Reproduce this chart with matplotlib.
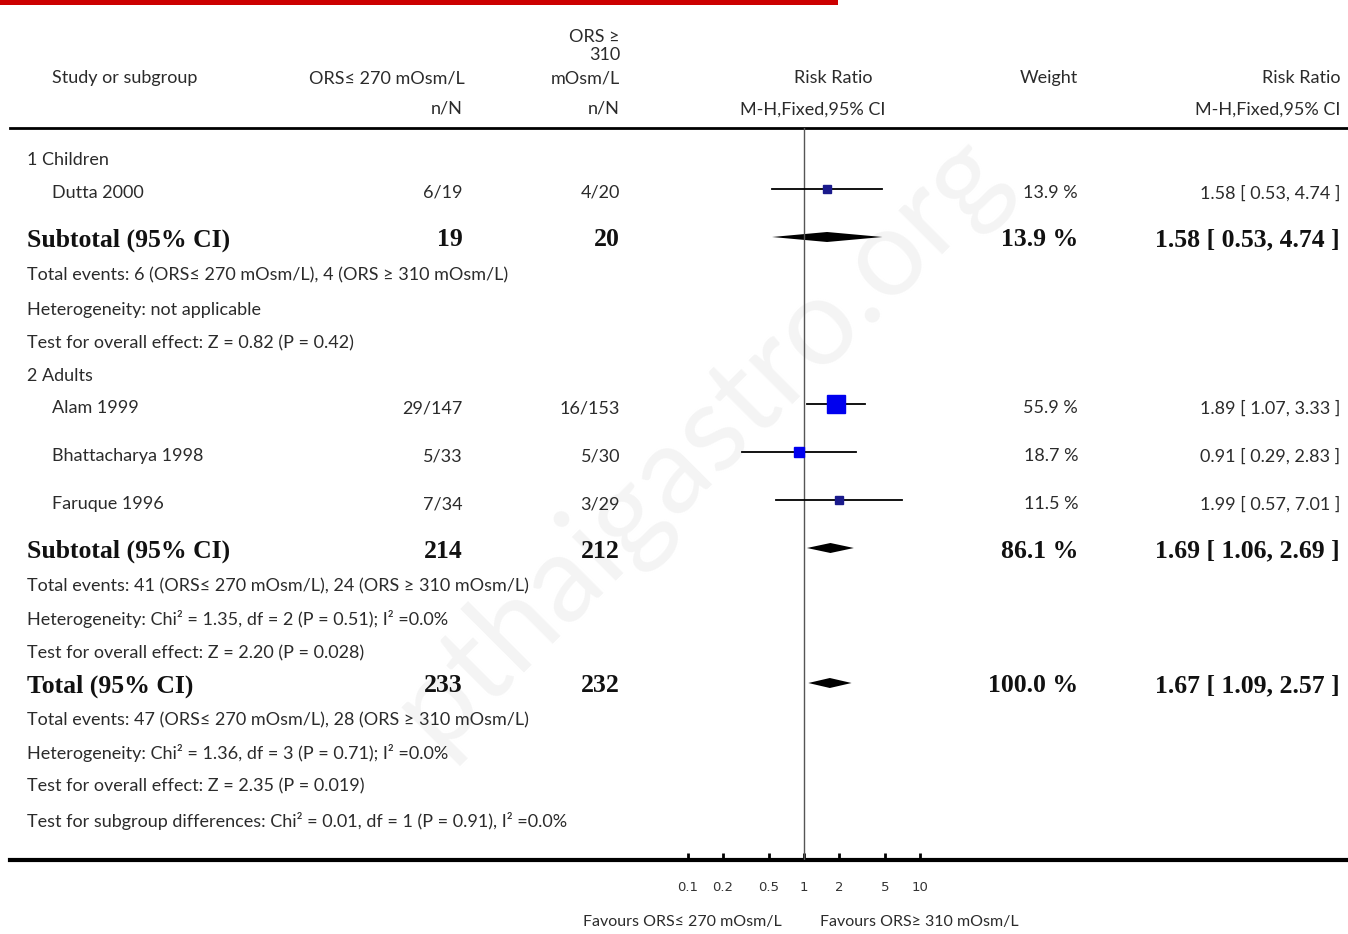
"""Forest plot: ORS <= 270 mOsm/L vs ORS >= 310 mOsm/L, risk ratio."""

import matplotlib
matplotlib.use('Agg')
import matplotlib.pyplot as plt
import numpy as np

# data
studies = ['Dutta 2000', 'Alam 1999', 'Bhattacharya 1998', 'Faruque 1996']
events_low = ['6/19', '29/147', '5/33', '7/34']
events_high = ['4/20', '16/153', '5/30', '3/29']
weights = [13.9, 55.9, 18.7, 11.5]
rr = [1.58, 1.89, 0.91, 1.99]
ci_lo = [0.53, 1.07, 0.29, 0.57]
ci_hi = [4.74, 3.33, 2.83, 7.01]

pooled_names = ['Subtotal (95% CI)', 'Subtotal (95% CI)', 'Total (95% CI)']
pooled_n_low = [19, 214, 233]
pooled_n_high = [20, 212, 232]
pooled_weight = [13.9, 86.1, 100.0]
pooled_rr = [1.58, 1.69, 1.67]
pooled_lo = [0.53, 1.06, 1.09]
pooled_hi = [4.74, 2.69, 2.57]

axis_ticks = [0.1, 0.2, 0.5, 1, 2, 5, 10]
axis_labels = ['0.1', '0.2', '0.5', '1', '2', '5', '10']

# layout (pixel rows)
study_rows = [193, 408, 456, 504]
pooled_rows = [240, 551, 686]
notes = [
    (160, '1 Children'),
    (275, 'Total events: 6 (ORS≤ 270 mOsm/L), 4 (ORS ≥ 310 mOsm/L)'),
    (310, 'Heterogeneity: not applicable'),
    (343, 'Test for overall effect: Z = 0.82 (P = 0.42)'),
    (376, '2 Adults'),
    (586, 'Total events: 41 (ORS≤ 270 mOsm/L), 24 (ORS ≥ 310 mOsm/L)'),
    (619, 'Heterogeneity: Chi² = 1.35, df = 2 (P = 0.51); I² =0.0%'),
    (653, 'Test for overall effect: Z = 2.20 (P = 0.028)'),
    (720, 'Total events: 47 (ORS≤ 270 mOsm/L), 28 (ORS ≥ 310 mOsm/L)'),
    (753, 'Heterogeneity: Chi² = 1.36, df = 3 (P = 0.71); I² =0.0%'),
    (786, 'Test for overall effect: Z = 2.35 (P = 0.019)'),
    (821, 'Test for subgroup differences: Chi² = 0.01, df = 1 (P = 0.91), I² =0.0%'),
]

W, H = 1348, 934
SANS = ['Lato', 'DejaVu Sans']
SERIF = 'Liberation Serif'
TXT = '#2b2b2b'
FS = 13
BFS = 18.5

fig = plt.figure(figsize=(W / 100, H / 100), dpi=100)
bg = fig.add_axes([0, 0, 1, 1])
bg.set_xlim(0, W)
bg.set_ylim(H, 0)
bg.axis('off')

# faint watermark
bg.text(700, 440, 'pthaigastro.org', fontsize=88, color='#f4f4f4', rotation=45,
        ha='center', va='center', family=SANS, zorder=0)

# red bar and rules
bg.fill_between([0, 838], 0, 5, color='#cc0000', lw=0)
bg.plot([10, W], [128, 128], color='black', lw=2)
bg.plot([10, W], [860, 860], color='black', lw=3)


def t(x, y, s, ha='left', bold=False, size=None):
    if bold:
        bg.text(x, y, s, ha=ha, va='center', family=SERIF, fontweight='bold',
                fontsize=size or BFS, color='#111111')
    else:
        bg.text(x, y, s, ha=ha, va='center', family=SANS, fontsize=size or FS, color=TXT)


# header
t(52, 78, 'Study or subgroup')
t(465, 78, 'ORS≤ 270 mOsm/L', ha='right')
t(463, 108, 'n/N', ha='right')
t(620, 37, 'ORS ≥', ha='right')
t(620, 55, '310', ha='right')
t(620, 78, 'mOsm/L', ha='right')
t(620, 108, 'n/N', ha='right')
t(833, 78, 'Risk Ratio', ha='center')
t(813, 110, 'M-H,Fixed,95% CI', ha='center')
t(1078, 78, 'Weight', ha='right')
t(1340, 78, 'Risk Ratio', ha='right')
t(1340, 110, 'M-H,Fixed,95% CI', ha='right')

for y, s in notes:
    t(27, y, s)

for i, name in enumerate(studies):
    y = study_rows[i]
    t(52, y, name)
    t(463, y, events_low[i], ha='right')
    t(620, y, events_high[i], ha='right')
    t(1078, y, '%.1f %%' % weights[i], ha='right')
    t(1340, y, '%.2f [ %.2f, %.2f ]' % (rr[i], ci_lo[i], ci_hi[i]), ha='right')

for i, name in enumerate(pooled_names):
    y = pooled_rows[i]
    t(27, y, name, bold=True)
    t(463, y, str(pooled_n_low[i]), ha='right', bold=True)
    t(620, y, str(pooled_n_high[i]), ha='right', bold=True)
    t(1078, y, '%.1f %%' % pooled_weight[i], ha='right', bold=True)
    t(1340, y, '%.2f [ %.2f, %.2f ]' % (pooled_rr[i], pooled_lo[i], pooled_hi[i]),
      ha='right', bold=True)

# forest panel, log scale aligned with pixel rows
ax = fig.add_axes([688 / W, (H - 860) / H, 232 / W, (860 - 128) / H])
ax.set_xscale('log')
ax.set_xlim(0.1, 10)
ax.set_ylim(860, 128)
ax.patch.set_alpha(0)
for sp in ax.spines.values():
    sp.set_visible(False)
ax.set_yticks([])
ax.set_xticks(axis_ticks)
ax.set_xticklabels(axis_labels)
ax.minorticks_off()
ax.tick_params(axis='x', direction='in', length=5, width=2, pad=15,
               labelsize=9.5, labelcolor='#333333')
ax.axvline(1, color='#555555', lw=1)

for i in range(len(studies)):
    y = study_rows[i] - 4
    ax.plot([ci_lo[i], ci_hi[i]], [y, y], color='black', lw=1.3)
    ms = 2.4 * np.sqrt(weights[i]) / 1.389
    face = '#0000ee' if weights[i] > 15 else '#1a1a8c'
    ax.plot(rr[i], y, marker='s', ms=ms, color=face, mec=face, lw=0)

for i in range(len(pooled_names)):
    y = pooled_rows[i] - 3
    ax.fill([pooled_lo[i], pooled_rr[i], pooled_hi[i], pooled_rr[i]],
            [y, y - 5, y, y + 5], color='black', lw=0)

t(682, 922, 'Favours ORS≤ 270 mOsm/L', ha='center', size=11.5)
t(820, 922, 'Favours ORS≥ 310 mOsm/L', size=11.5)

fig.savefig('out.png', dpi=100)
